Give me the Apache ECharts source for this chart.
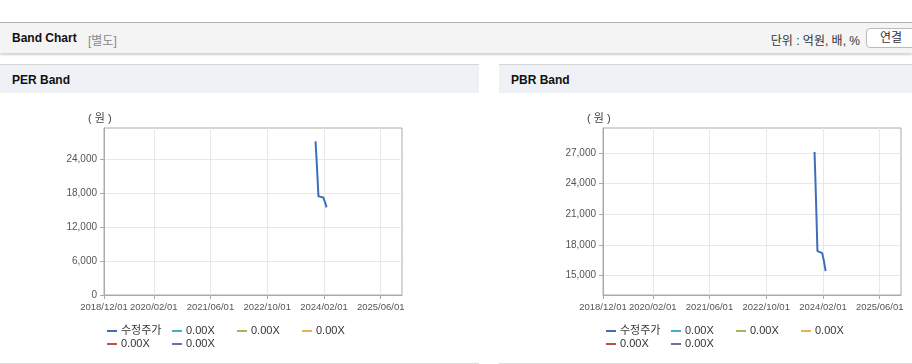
<!DOCTYPE html>
<html>
<head>
<meta charset="utf-8">
<script src="https://cdn.jsdelivr.net/npm/echarts@6/dist/echarts.min.js"></script>
<style>
  html, body { margin:0; padding:0; width:912px; height:364px; overflow:hidden; background:#fff;
    font-family: "Liberation Sans", "Noto Sans CJK KR", sans-serif; }
  .topbar { position:absolute; left:0; top:22px; width:912px; height:30px; background:#f4f4f4;
    border-top:1px solid #b2b2b2; box-shadow:0 2px 2px rgba(0,0,0,0.18); }
  .topbar .title { position:absolute; left:12px; top:8px; font-size:12px; font-weight:bold; color:#111; }
  .topbar .sub { position:absolute; left:88px; top:8px; font-size:12px; color:#888; }
  .topbar .unit { position:absolute; right:52px; top:8px; font-size:12px; color:#333; }
  .topbar .btn { position:absolute; left:866px; top:5px; width:50px; height:20px; border:1px solid #bbb;
    border-radius:4px; background:#fff; font-size:12px; color:#333; text-align:center; line-height:18px; box-sizing:border-box; }
  .panel { position:absolute; top:64px; height:298px; border-top:1px solid #d6d6d6; border-bottom:1px solid #dcdcdc; background:#fff; }
  .panel .head { position:absolute; left:0; top:0; right:0; height:28px; background:#eef2f7; }
  .panel .head span { position:absolute; left:12px; top:8px; font-size:12px; font-weight:bold; color:#111; }
  .chart { position:absolute; left:0; top:28px; width:100%; height:269px; }
</style>
</head>
<body>
<div class="topbar">
  <span class="title">Band Chart</span><span class="sub">[별도]</span>
  <span class="unit">단위 : 억원, 배, %</span>
  <div class="btn">연결</div>
</div>
<div class="panel" style="left:0; width:479px;">
  <div class="head"><span>PER Band</span></div>
  <div class="chart" id="per"></div>
</div>
<div class="panel" style="left:499px; width:413px;">
  <div class="head"><span>PBR Band</span></div>
  <div class="chart" id="pbr"></div>
</div>
<script>
// ---- data ----
const priceDates = ['2023/11/20','2023/11/28','2023/11/29','2023/12/06','2023/12/07','2023/12/14','2023/12/15','2024/01/05','2024/01/25','2024/02/09','2024/02/23'];
const priceValues = [27100, 27050, 23900, 23800, 20700, 20600, 17400, 17300, 17200, 16400, 15450];
const bandNames = ['0.00X','0.00X ','0.00X  ','0.00X   ','0.00X    '];
const bandColors = ['#4bacc6','#9bbb59','#e9b24f','#c0504d','#8064a2'];
const bandValues = [[],[],[],[],[]];
const xTickLabels = ['2018/12/01','2020/02/01','2021/06/01','2022/10/01','2024/02/01','2025/06/01'];
const xRange = ['2018/12/01','2025/12/01'];
const perYTicks = [0, 6000, 12000, 18000, 24000];
const perYRange = [0, 29450];
const pbrYTicks = [15000, 18000, 21000, 24000, 27000];
const pbrYRange = [13100, 29450];
const priceName = '수정주가';
const priceColor = '#3d6fb9';

function ts(s) { const p = s.split('/').map(Number); return Date.UTC(p[0], p[1]-1, p[2]); }
function fmtDate(v) {
  const d = new Date(v);
  const mm = String(d.getUTCMonth()+1).padStart(2,'0');
  const dd = String(d.getUTCDate()).padStart(2,'0');
  return d.getUTCFullYear() + '/' + mm + '/' + dd;
}
const FONT = '"Liberation Sans", "Noto Sans CJK KR", sans-serif';

function build(yTicks, yRange) {
  const xTicks = xTickLabels.map(ts);
  const series = [{
    name: priceName, type: 'line', showSymbol: false, symbol: 'none',
    data: priceDates.map((d, i) => [ts(d), priceValues[i]]),
    lineStyle: { color: priceColor, width: 2 }, itemStyle: { color: priceColor }
  }];
  bandNames.forEach((n, i) => series.push({
    name: n, type: 'line', showSymbol: false, symbol: 'none', data: bandValues[i],
    lineStyle: { color: bandColors[i], width: 2 }, itemStyle: { color: bandColors[i] }
  }));
  const allNames = [priceName].concat(bandNames);
  const cols = [107, 172, 237, 302];
  const legendPos = [[0,0],[1,0],[2,0],[3,0],[0,1],[1,1]];
  const legends = allNames.map((n, i) => ({
    data: [n], left: cols[legendPos[i][0]], top: legendPos[i][1] ? 245.5 : 232.5,
    padding: 0, itemWidth: 10, itemHeight: 2, itemGap: 0, icon: 'rect',
    selectedMode: false,
    formatter: function (name) { return name.trim(); },
    textStyle: { fontSize: 11, color: '#333', fontFamily: FONT, padding: [0,0,0,-1] }
  }));
  return {
    animation: false,
    textStyle: { fontFamily: FONT },
    grid: { left: 104, top: 35, width: 298, height: 167, show: true, borderColor: '#aaa', borderWidth: 1, containLabel: false },
    legend: legends,
    graphic: [{ type: 'text', left: 88, top: 20, style: { text: '( 원 )', fontSize: 11, fill: '#444', fontFamily: FONT } }],
    xAxis: {
      type: 'value', min: ts(xRange[0]) - 3600000, max: ts(xRange[1]),
      axisLine: { lineStyle: { color: '#aaa' } },
      axisTick: { show: true, length: 4, customValues: xTicks, lineStyle: { color: '#aaa' } },
      axisLabel: { customValues: xTicks, formatter: fmtDate, fontSize: 9.5, color: '#555', margin: 8, fontFamily: FONT,
        showMinLabel: true, showMaxLabel: true, hideOverlap: false },
      splitLine: { show: true, lineStyle: { color: '#e8e8e8' } }
    },
    yAxis: {
      type: 'value', min: yRange[0], max: yRange[1],
      axisLine: { show: true, lineStyle: { color: '#aaa' } },
      axisTick: { show: true, length: 4, customValues: yTicks, lineStyle: { color: '#aaa' } },
      axisLabel: { customValues: yTicks, fontSize: 10, color: '#555', margin: 7, fontFamily: FONT,
        formatter: v => Number(v).toLocaleString('en-US') },
      splitLine: { show: true, lineStyle: { color: '#e8e8e8' } }
    },
    series: series
  };
}
echarts.init(document.getElementById('per')).setOption(build(perYTicks, perYRange));
echarts.init(document.getElementById('pbr')).setOption(build(pbrYTicks, pbrYRange));
</script>
</body>
</html>
